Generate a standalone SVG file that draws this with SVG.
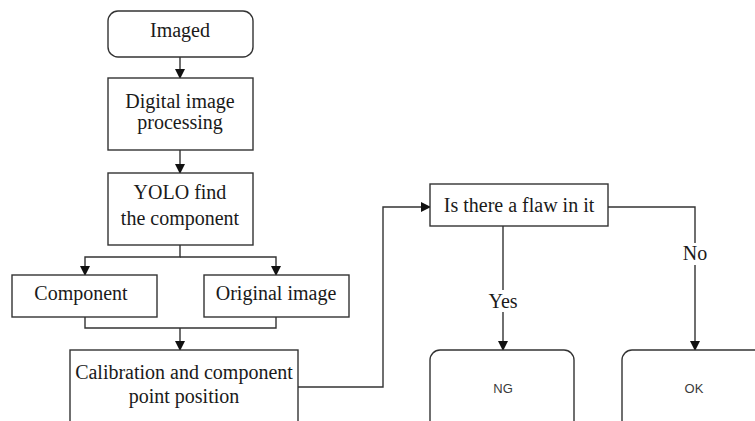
<svg xmlns="http://www.w3.org/2000/svg" width="755" height="421" viewBox="0 0 755 421">
  <style>
    .box { fill: #ffffff; stroke: #333333; stroke-width: 1.4; }
    .wire { fill: none; stroke: #333333; stroke-width: 1.4; }
  </style>
  <defs>
    <marker id="arrow" markerWidth="10" markerHeight="10" refX="9" refY="5" orient="auto" markerUnits="userSpaceOnUse">
      <path d="M0,0 L10,5 L0,10 Z" fill="#111111"/>
    </marker>
  </defs>
  <rect width="755" height="421" fill="#ffffff"/>

  <g id="connectors">
    <path class="wire" d="M180,57 V78" marker-end="url(#arrow)"/>
    <path class="wire" d="M180,150 V173" marker-end="url(#arrow)"/>
    <path class="wire" d="M180,245 V257 H85 V275" marker-end="url(#arrow)"/>
    <path class="wire" d="M180,257 H276 V275" marker-end="url(#arrow)"/>
    <path class="wire" d="M85,317 V328 H276 V317"/>
    <path class="wire" d="M180,328 V350" marker-end="url(#arrow)"/>
    <path class="wire" d="M298,387 H383 V207 H430" marker-end="url(#arrow)"/>
    <path class="wire" d="M503,226 V350" marker-end="url(#arrow)"/>
    <path class="wire" d="M608,207 H695 V350" marker-end="url(#arrow)"/>
    <g font-family="Liberation Serif" font-size="20" fill="#1a1a1a" text-anchor="middle">
      <rect x="486" y="290" width="34" height="22" fill="#ffffff"/>
      <text x="503" y="308">Yes</text>
      <rect x="682" y="243" width="26" height="22" fill="#ffffff"/>
      <text x="695" y="260">No</text>
    </g>
  </g>

  <g font-family="Liberation Serif" font-size="20" fill="#1a1a1a" text-anchor="middle">
    <g id="imaged">
      <rect class="box" x="108" y="11" width="145" height="46" rx="10"/>
      <text x="180" y="37">Imaged</text>
    </g>
    <g id="digital">
      <rect class="box" x="108" y="78" width="145" height="72"/>
      <text x="180" y="108">Digital image</text>
      <text x="180" y="129">processing</text>
    </g>
    <g id="yolo">
      <rect class="box" x="108" y="173" width="145" height="72"/>
      <text x="180" y="199">YOLO find</text>
      <text x="180" y="225">the component</text>
    </g>
    <g id="component">
      <rect class="box" x="12" y="275" width="145" height="42"/>
      <text x="81" y="300">Component</text>
    </g>
    <g id="original">
      <rect class="box" x="204" y="275" width="145" height="42"/>
      <text x="276" y="300">Original image</text>
    </g>
    <g id="calibration">
      <rect class="box" x="70" y="350" width="228" height="80"/>
      <text x="184" y="379">Calibration and component</text>
      <text x="184" y="403">point position</text>
    </g>
    <g id="flaw">
      <rect class="box" x="430" y="184" width="178" height="42"/>
      <text x="519" y="212">Is there a flaw in it</text>
    </g>
  </g>
  <g font-family="Liberation Sans" font-size="13" fill="#3a3a3a" text-anchor="middle">
    <g id="ng">
      <rect class="box" x="430" y="350" width="144" height="90" rx="10"/>
      <text x="503" y="393">NG</text>
    </g>
    <g id="ok">
      <rect class="box" x="622" y="350" width="150" height="90" rx="10"/>
      <text x="694" y="393">OK</text>
    </g>
  </g>
</svg>
